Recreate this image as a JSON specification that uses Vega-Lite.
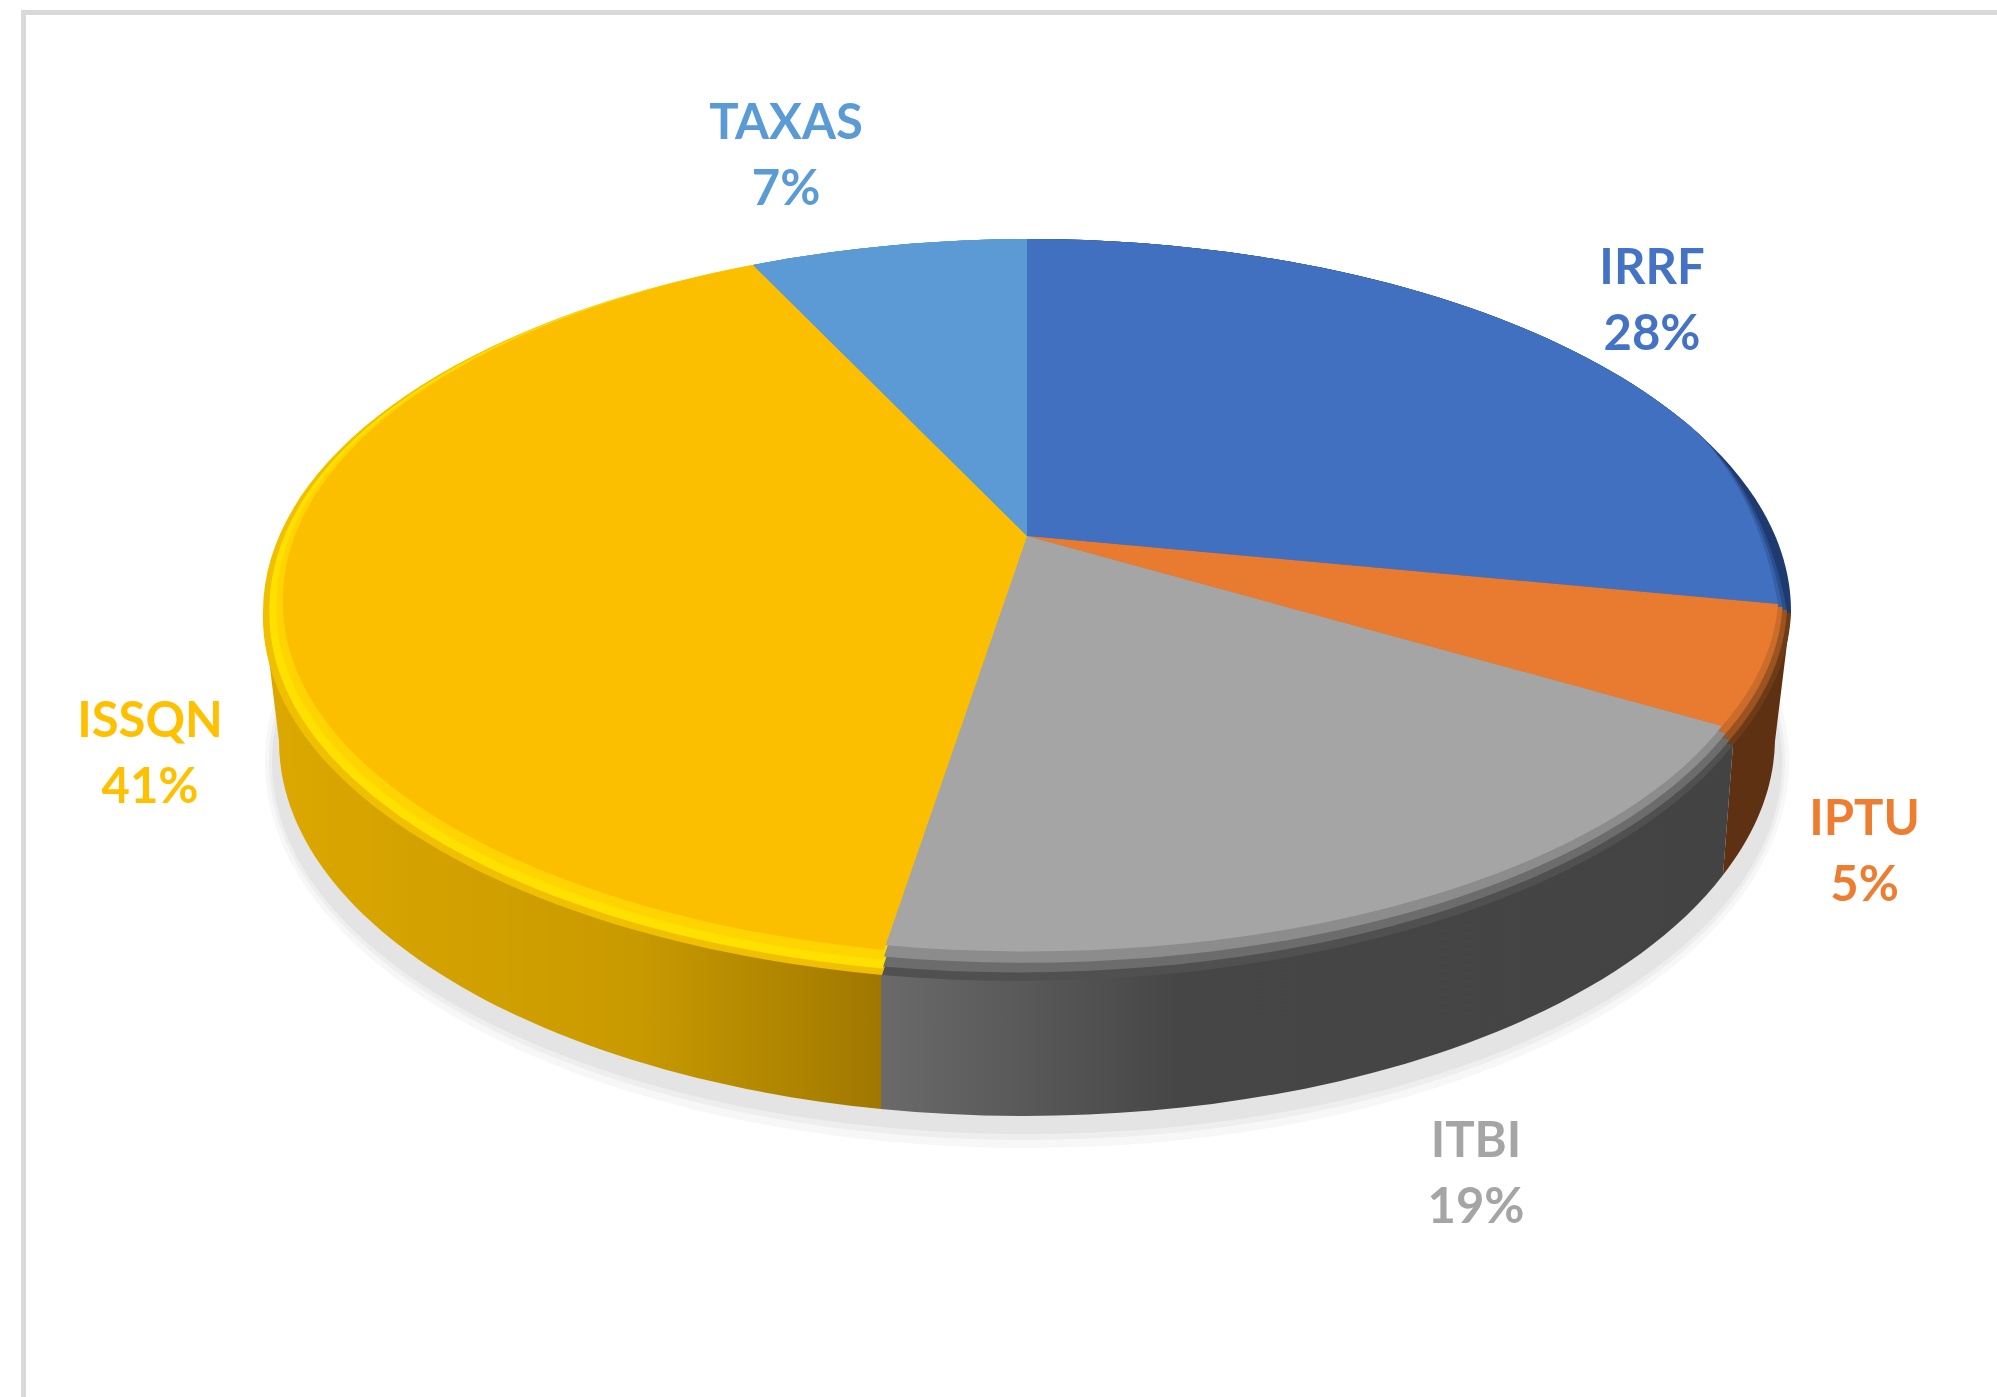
{
"$schema":"https://vega.github.io/schema/vega-lite/v6.json",
"width":1997,"height":1397,"padding":0,"autosize":{"type":"none"},
"background":"#ffffff",
"config":{"view":{"stroke":null}},
"datasets":{"tributos":[
{"tributo":"IRRF","pct":0.28},
{"tributo":"IPTU","pct":0.05},
{"tributo":"ITBI","pct":0.19},
{"tributo":"ISSQN","pct":0.41},
{"tributo":"TAXAS","pct":0.07}],
"base":[{"parte":"base"}]},
"data":{"name":"tributos"},
"resolve":{"scale":{"shape":"independent","color":"independent"}},
"layer":[
{"data":{"name":"base"},"mark":{"type":"point","filled":false,"opacity":1,"size":4000000,"stroke":"#d9d9d9","strokeWidth":5,"shape":"M -0.975 0.6985 L -0.975 -0.686 L 0.9985 -0.686"}},
{"data":{"name":"base"},"mark":{"type":"point","filled":true,"opacity":1,"size":4000000,"color":"#f7f7f7","shape":"M -0.7335 0.0635 A 0.762 0.386 0 1 1 0.7905 0.0635 A 0.762 0.386 0 1 1 -0.7335 0.0635 Z"}},
{"data":{"name":"base"},"mark":{"type":"point","filled":true,"opacity":1,"size":4000000,"color":"#eeeeee","shape":"M -0.7295 0.0635 A 0.758 0.378 0 1 1 0.7865 0.0635 A 0.758 0.378 0 1 1 -0.7295 0.0635 Z"}},
{"data":{"name":"base"},"mark":{"type":"point","filled":true,"opacity":1,"size":4000000,"color":"#e4e4e4","shape":"M -0.7265 0.0635 A 0.755 0.372 0 1 1 0.7835 0.0635 A 0.755 0.372 0 1 1 -0.7265 0.0635 Z"}},
{"transform":[{"filter":"datum.tributo==='ISSQN'"}],"mark":{"type":"point","filled":true,"opacity":1,"size":4000000,
 "fill":{"gradient":"linear","x1":0,"x2":1,"y1":0,"y2":0,"stops":[{"offset":0,"color":"#dca800"},{"offset":0.6,"color":"#c99a00"},{"offset":1,"color":"#a07800"}]},
 "shape":"M -0.7355 -0.0875 L -0.7195 0.0425 A 0.748 0.375 0 0 0 -0.1175 0.4105 L -0.1175 0.2015 Z"}},
{"transform":[{"filter":"datum.tributo==='IPTU'"}],"mark":{"type":"point","filled":true,"opacity":1,"size":4000000,"fill":"#5f3113",
 "shape":"M 0.7345 0.0465 L 0.7245 0.1765 A 0.748 0.375 0 0 0 0.7765 0.0425 L 0.7925 -0.0875 L 0.7015 -0.0985 Z"}},
{"transform":[{"filter":"datum.tributo==='ITBI'"}],"mark":{"type":"point","filled":true,"opacity":1,"size":4000000,
 "fill":{"gradient":"linear","x1":0,"x2":1,"y1":0,"y2":0,"stops":[{"offset":0,"color":"#6a6a6a"},{"offset":0.35,"color":"#464646"},{"offset":1,"color":"#434343"}]},
 "shape":"M -0.1175 0.2015 L -0.1175 0.4105 A 0.748 0.375 0 0 0 0.7245 0.1765 L 0.7345 0.0465 L 0.7015 0.0015 Z"}},
{"mark":{"type":"point","filled":true,"opacity":1,"size":4000000},
 "encoding":{
 "shape":{"field":"tributo","type":"nominal","legend":null,"scale":{"domain":["IRRF","IPTU","ITBI","ISSQN","TAXAS"],"range":[
  "M 0.0285 -0.1625 L 0.0285 -0.4595 A 0.764 0.372 0 0 1 0.7925 -0.0855 Z",
  "M 0.0285 -0.1625 L 0.7925 -0.0855 A 0.764 0.365 0 0 1 0.7345 0.0465 Z",
  "M 0.0285 -0.1625 L 0.7345 0.0465 A 0.764 0.365 0 0 1 -0.1165 0.2765 Z",
  "M 0.0285 -0.1625 L -0.1165 0.2765 A 0.764 0.365 0 0 1 -0.7355 -0.0875 A 0.764 0.372 0 0 1 -0.2455 -0.4335 Z",
  "M 0.0285 -0.1625 L -0.2455 -0.4335 A 0.764 0.372 0 0 1 0.0285 -0.4595 Z"]}},
 "color":{"field":"tributo","type":"nominal","legend":null,"scale":{"domain":["IRRF","IPTU","ITBI","ISSQN","TAXAS"],"range":["#1e3a6e","#6e3b17","#505050","#f0c000","#5b9ad5"]}}}},
{"mark":{"type":"point","filled":true,"opacity":1,"size":4000000},
 "encoding":{
 "shape":{"field":"tributo","type":"nominal","legend":null,"scale":{"domain":["IRRF","IPTU","ITBI","ISSQN","TAXAS"],"range":[
  "M 0.0285 -0.1625 L 0.0285 -0.4595 A 0.764 0.372 0 0 1 0.7015 -0.2635 A 0.2 0.3 0 0 1 0.7885 -0.0885 Z",
  "M 0.0285 -0.1625 L 0.7885 -0.0885 A 0.76 0.362 0 0 1 0.7315 0.041 Z",
  "M 0.0285 -0.1625 L 0.7315 0.041 A 0.76 0.36 0 0 1 -0.116 0.268 Z",
  "M 0.0285 -0.1625 L -0.116 0.27 A 0.76 0.362 0 0 1 -0.729 -0.0925 A 0.76 0.369 0 0 1 -0.2455 -0.4335 Z",
  "M 0.0285 -0.1625 L -0.2455 -0.4335 A 0.764 0.372 0 0 1 0.0285 -0.4595 Z"]}},
 "color":{"field":"tributo","type":"nominal","legend":null,"scale":{"domain":["IRRF","IPTU","ITBI","ISSQN","TAXAS"],"range":["#2a4d8c","#9a5321","#6c6c6c","#ffe000","#5b9ad5"]}}}},
{"mark":{"type":"point","filled":true,"opacity":1,"size":4000000},
 "encoding":{
 "shape":{"field":"tributo","type":"nominal","legend":null,"scale":{"domain":["IRRF","IPTU","ITBI","ISSQN","TAXAS"],"range":[
  "M 0.0285 -0.1625 L 0.0285 -0.4595 A 0.764 0.372 0 0 1 0.7015 -0.2635 A 0.2 0.3 0 0 1 0.784 -0.0915 Z",
  "M 0.0285 -0.1625 L 0.784 -0.0915 A 0.756 0.358 0 0 1 0.7275 0.0345 Z",
  "M 0.0285 -0.1625 L 0.7275 0.0345 A 0.75 0.353 0 0 1 -0.1155 0.258 Z",
  "M 0.0285 -0.1625 L -0.1155 0.261 A 0.756 0.358 0 0 1 -0.722 -0.0955 A 0.756 0.365 0 0 1 -0.2455 -0.4335 Z",
  "M 0.0285 -0.1625 L -0.2455 -0.4335 A 0.764 0.372 0 0 1 0.0285 -0.4595 Z"]}},
 "color":{"field":"tributo","type":"nominal","legend":null,"scale":{"domain":["IRRF","IPTU","ITBI","ISSQN","TAXAS"],"range":["#3660a8","#cc6c2a","#8c8c8c","#ffd400","#5b9ad5"]}}}},
{"mark":{"type":"point","filled":true,"opacity":1,"size":4000000},
 "encoding":{
 "shape":{"field":"tributo","type":"nominal","legend":null,"scale":{"domain":["IRRF","IPTU","ITBI","ISSQN","TAXAS"],"range":[
  "M 0.0285 -0.1625 L 0.0285 -0.4595 A 0.764 0.372 0 0 1 0.7015 -0.2635 A 0.2 0.3 0 0 1 0.7795 -0.0945 Z",
  "M 0.0285 -0.1625 L 0.7795 -0.0945 A 0.752 0.354 0 0 1 0.7235 0.0275 Z",
  "M 0.0285 -0.1625 L 0.7235 0.0275 A 0.74 0.342 0 0 1 -0.1145 0.2465 Z",
  "M 0.0285 -0.1625 L -0.1145 0.2515 A 0.752 0.354 0 0 1 -0.7155 -0.0985 A 0.752 0.361 0 0 1 -0.2455 -0.4335 Z",
  "M 0.0285 -0.1625 L -0.2455 -0.4335 A 0.764 0.372 0 0 1 0.0285 -0.4595 Z"]}},
 "color":{"field":"tributo","type":"nominal","legend":null,"scale":{"domain":["IRRF","IPTU","ITBI","ISSQN","TAXAS"],"range":["#4070bf","#e97b30","#a5a5a5","#fbbf00","#5b9ad5"]}}}},
{"mark":{"type":"text","font":"Lato","fontWeight":"bold","fontSize":49,"align":"center","baseline":"middle","dy":-33},
 "encoding":{
 "x":{"field":"pct","type":"quantitative","axis":null,"scale":{"domain":[0.05,0.07,0.19,0.28,0.41],"range":[1864.5,786,1476,1652,150]}},
 "y":{"field":"pct","type":"quantitative","axis":null,"scale":{"domain":[0.05,0.07,0.19,0.28,0.41],"range":[853,157,1175,302,755]}},
 "text":{"field":"tributo","type":"nominal"},
 "color":{"field":"tributo","type":"nominal","legend":null,"scale":{"domain":["IRRF","IPTU","ITBI","ISSQN","TAXAS"],"range":["#4472c4","#ed7d31","#a5a5a5","#ffc000","#5b9bd5"]}}}},
{"mark":{"type":"text","font":"Lato","fontWeight":"bold","fontSize":49,"align":"center","baseline":"middle","dy":33},
 "encoding":{
 "x":{"field":"pct","type":"quantitative","axis":null,"scale":{"domain":[0.05,0.07,0.19,0.28,0.41],"range":[1864.5,786,1476,1652,150]}},
 "y":{"field":"pct","type":"quantitative","axis":null,"scale":{"domain":[0.05,0.07,0.19,0.28,0.41],"range":[853,157,1175,302,755]}},
 "text":{"field":"pct","type":"quantitative","format":".0%"},
 "color":{"field":"tributo","type":"nominal","legend":null,"scale":{"domain":["IRRF","IPTU","ITBI","ISSQN","TAXAS"],"range":["#4472c4","#ed7d31","#a5a5a5","#ffc000","#5b9bd5"]}}}}
]}
